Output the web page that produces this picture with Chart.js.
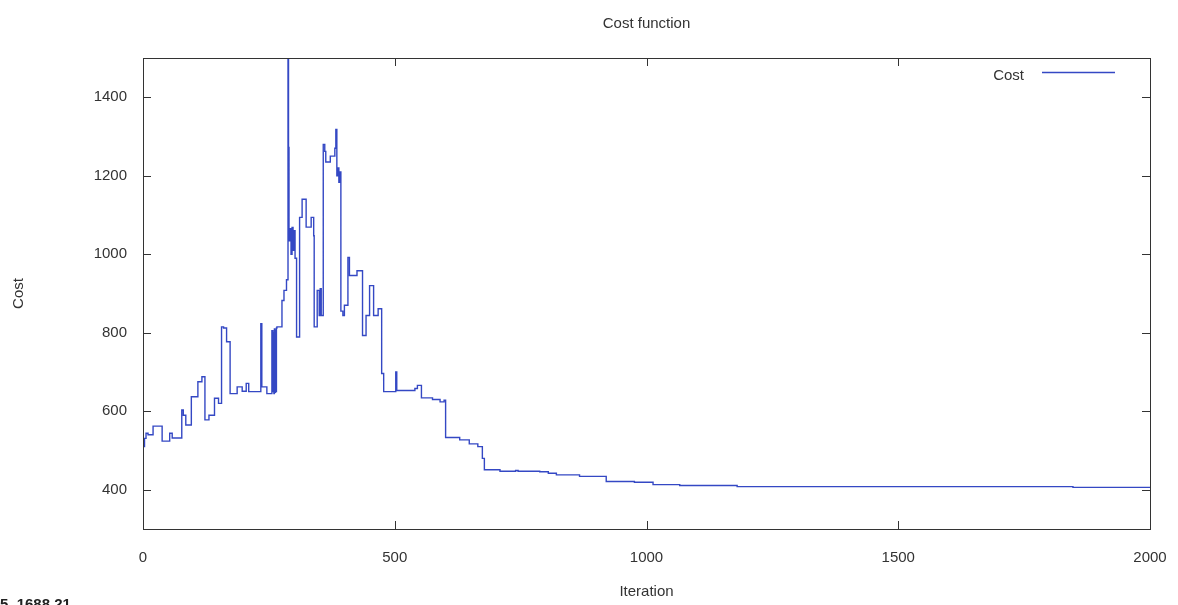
<!DOCTYPE html>
<html>
<head>
<meta charset="utf-8">
<title>Cost function</title>
<script src="https://cdn.jsdelivr.net/npm/chart.js@4.4.0/dist/chart.umd.min.js"></script>
<style>
  html, body { margin: 0; padding: 0; background: #fff; }
  #wrap { width: 1178px; height: 605px; }
</style>
</head>
<body>
<div id="wrap"><canvas id="chartCost" width="1178" height="605"></canvas></div>
<script>
// iteration at which each new cost level starts (step plot)
const iteraciones = [
    0, 3, 6, 10, 20, 38, 53, 58, 77, 80, 85, 96, 109, 117, 123, 131, 142, 150,
    156, 160, 166, 173, 187, 197, 205, 210, 234, 236, 246, 256, 258, 259, 260,
    261, 262, 263, 264, 265, 266, 276, 280, 285, 288, 289, 290, 292, 294, 296,
    298, 300, 302, 305, 311, 316, 324, 334, 339, 340, 346, 350, 352, 354, 358,
    361, 363, 372, 381, 383, 385, 387, 389, 391, 393, 397, 400, 407, 410, 425,
    436, 443, 450, 458, 467, 474, 478, 502, 504, 540, 545, 553, 575, 590, 598,
    601, 629, 648, 665, 674, 678, 709, 740, 745, 788, 805, 821, 867, 920, 976,
    1013, 1066, 1180, 1847, 2000
];
const costos = [
    510, 531, 544, 540, 562, 524, 544, 532, 603, 590, 565, 637, 675, 688, 578, 590, 633, 620,
    815, 812, 777, 645, 662, 651, 671, 650, 823, 662, 645, 805, 650, 800, 645,
    810, 648, 806, 650, 812, 815, 882, 908, 935, 1700, 1272, 1034, 1065, 1000, 1068,
    1010, 1060, 990, 789, 1094, 1140, 1069, 1094, 1047, 815, 908, 844, 912, 844, 1280,
    1262, 1235, 1250, 1270, 1318, 1200, 1220, 1183, 1210, 855, 844, 870, 992, 946, 958,
    793, 844, 920, 844, 861, 696, 650, 700, 653, 658, 666, 634, 630, 624, 628,
    533, 527, 517, 510, 480, 451, 447, 449, 447, 446, 442, 438, 434, 421, 419,
    413, 411, 408, 406, 406
];
const ticksX = [0, 500, 1000, 1500, 2000];
const ticksY = [400, 600, 800, 1000, 1200, 1400];

const colorLinea = '#3448c4';
const colorTexto = '#333333';
const fuente = '"Liberation Sans", Arial, sans-serif';

// marco, marcas interiores, leyenda y lectura del raton al estilo gnuplot
const marcoGnuplot = {
    id: 'marcoGnuplot',
    afterDraw(chart) {
        const { ctx, chartArea: a, scales } = chart;
        ctx.save();
        ctx.strokeStyle = '#333';
        ctx.lineWidth = 1;
        ctx.strokeRect(a.left + 0.5, a.top + 0.5, a.right - a.left, a.bottom - a.top);
        ctx.beginPath();
        ticksY.forEach(v => {
            const y = Math.round(scales.y.getPixelForValue(v)) + 0.5;
            ctx.moveTo(a.left, y); ctx.lineTo(a.left + 8, y);
            ctx.moveTo(a.right, y); ctx.lineTo(a.right - 8, y);
        });
        ticksX.forEach(v => {
            const x = Math.round(scales.x.getPixelForValue(v)) + 0.5;
            ctx.moveTo(x, a.bottom); ctx.lineTo(x, a.bottom - 8);
            ctx.moveTo(x, a.top); ctx.lineTo(x, a.top + 8);
        });
        ctx.stroke();

        // leyenda
        const ds = chart.data.datasets[0];
        ctx.font = '15px ' + fuente;
        ctx.fillStyle = colorTexto;
        ctx.textAlign = 'right';
        ctx.textBaseline = 'middle';
        ctx.fillText(ds.label, a.right - 126, a.top + 18);
        ctx.strokeStyle = colorLinea;
        ctx.lineWidth = 1.3;
        ctx.beginPath();
        ctx.moveTo(a.right - 108, a.top + 14.5);
        ctx.lineTo(a.right - 35, a.top + 14.5);
        ctx.stroke();

        // lectura del raton (cortada abajo a la izquierda)
        ctx.font = 'bold 15px ' + fuente;
        ctx.fillStyle = '#222';
        ctx.textAlign = 'left';
        ctx.textBaseline = 'alphabetic';
        ctx.fillText('5, 1688.21', 0, 609);
        ctx.restore();
    }
};

const puntos = iteraciones.map((it, i) => ({ x: it, y: costos[i] }));

const canvas = document.getElementById('chartCost');
const context = canvas.getContext('2d');

const chartCost = new Chart(context, {
    type: 'line',
    data: {
        datasets: [{
            label: 'Cost',
            data: puntos,
            borderColor: colorLinea,
            borderWidth: 1.4,
            pointRadius: 0,
            stepped: true,
            fill: false
        }]
    },
    options: {
        responsive: false,
        animation: false,
        layout: { padding: { left: 0, right: 28, top: 0, bottom: 0 } },
        plugins: {
            legend: { display: false },
            tooltip: { enabled: false },
            title: {
                display: true,
                text: 'Cost function',
                fullSize: false,
                color: colorTexto,
                font: { family: fuente, size: 15, weight: 'normal' },
                padding: { top: 15, bottom: 25 }
            }
        },
        scales: {
            x: {
                type: 'linear',
                min: 0,
                max: 2000,
                afterFit: s => { s.height = 76; s.paddingLeft = 0; s.paddingRight = 0; },
                afterBuildTicks: s => { s.ticks = ticksX.map(v => ({ value: v })); },
                grid: { display: false, drawTicks: false },
                border: { display: false },
                ticks: {
                    color: colorTexto,
                    padding: 20,
                    maxRotation: 0,
                    font: { family: fuente, size: 15 },
                    callback: v => String(v)
                },
                title: {
                    display: true,
                    text: 'Iteration',
                    color: colorTexto,
                    font: { family: fuente, size: 15 },
                    padding: { top: 0, bottom: 4 }
                }
            },
            y: {
                min: 300,
                max: 1500,
                afterFit: s => { s.width = 143; s.paddingTop = 0; s.paddingBottom = 0; },
                afterBuildTicks: s => { s.ticks = ticksY.map(v => ({ value: v })); },
                grid: { display: false, drawTicks: false },
                border: { display: false },
                ticks: {
                    color: colorTexto,
                    padding: 16,
                    font: { family: fuente, size: 15 },
                    callback: v => String(v)
                },
                title: {
                    display: true,
                    text: 'Cost',
                    color: colorTexto,
                    font: { family: fuente, size: 15 },
                    padding: { top: 10, bottom: 0 }
                }
            }
        }
    },
    plugins: [marcoGnuplot]
});
</script>
</body>
</html>
